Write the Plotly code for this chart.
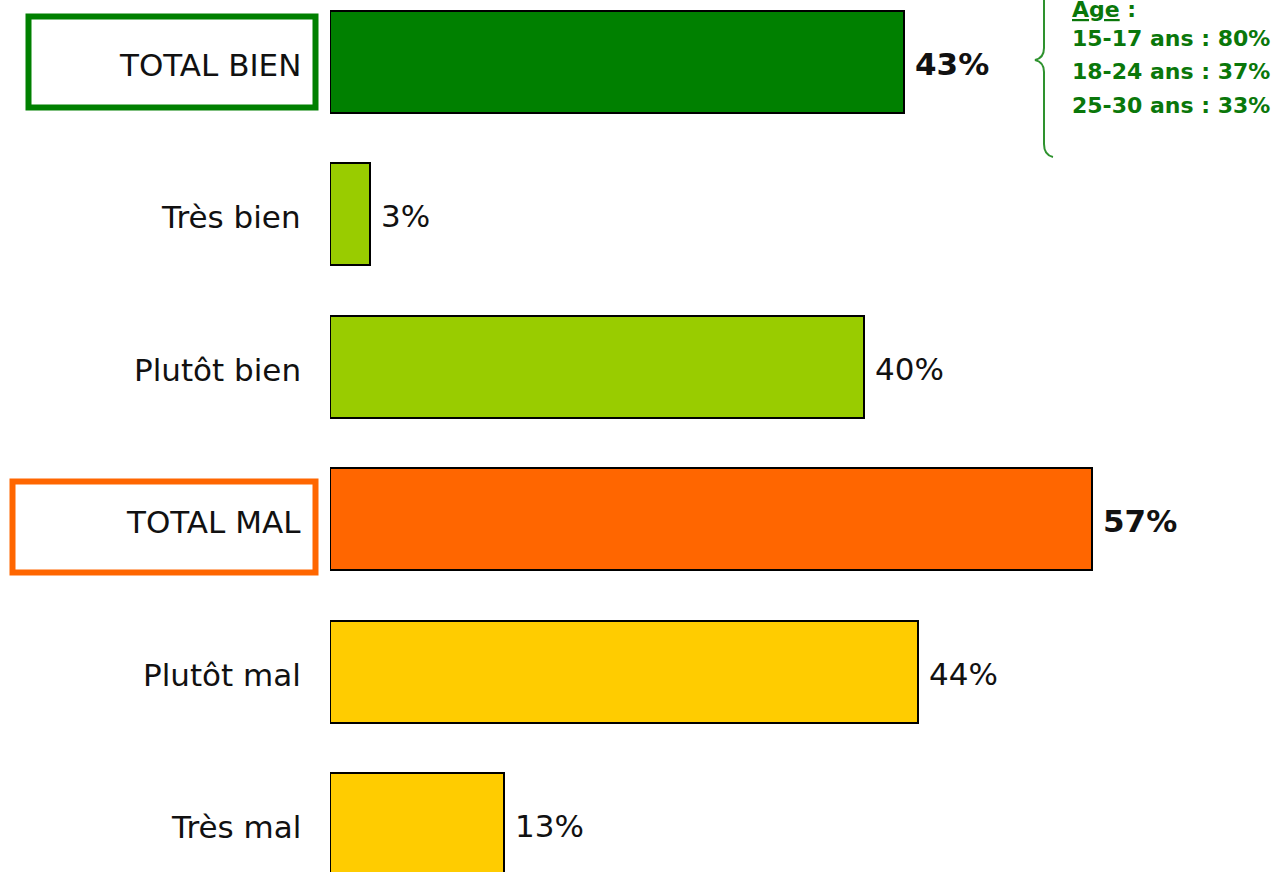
import plotly.graph_objects as go

categories = ["TOTAL BIEN", "Très bien", "Plutôt bien", "TOTAL MAL", "Plutôt mal", "Très mal"]
values = [43, 3, 40, 57, 44, 13]
is_total = [True, False, False, True, False, False]
bar_colors = ["#008000", "#99CC00", "#99CC00", "#FF6600", "#FFCC00", "#FFCC00"]

age_title = "Age"
age_groups = ["15-17 ans", "18-24 ans", "25-30 ans"]
age_values = [80, 37, 33]

W, H = 1273, 872
x0_px = 330
FONT = "DejaVu Sans"
GREEN_TXT = "#0A770A"

ypos = list(range(len(categories)))

fig = go.Figure()
fig.add_trace(go.Bar(
    x=values, y=ypos, orientation="h", width=0.67,
    marker=dict(color=bar_colors, line=dict(color="#000000", width=2)),
    hoverinfo="skip", showlegend=False,
))

annotations = []
for i, (c, v, t) in enumerate(zip(categories, values, is_total)):
    annotations.append(dict(
        x=303 / W, xref="paper", y=i, yref="y", text=c, showarrow=False,
        xanchor="right", yanchor="middle", yshift=-3,
        font=dict(family=FONT, size=31, color="#111111"),
    ))
    annotations.append(dict(
        x=v, xref="x", y=i, yref="y", text=(f"<b>{v}%</b>" if t else f"{v}%"),
        showarrow=False, xanchor="left", yanchor="middle", xshift=9, yshift=-2,
        font=dict(family=FONT, size=31, color="#111111"),
    ))

def py(px):
    return 1 - px / H

annotations.append(dict(
    x=1070 / W, xref="paper", y=py(9), yref="paper",
    text=f"<b><u>{age_title}</u> :</b>", showarrow=False,
    xanchor="left", yanchor="middle",
    font=dict(family=FONT, size=22, color=GREEN_TXT),
))
for k, (g, v) in enumerate(zip(age_groups, age_values)):
    annotations.append(dict(
        x=1070 / W, xref="paper", y=py(38 + 33.5 * k), yref="paper",
        text=f"<b>{g} : {v}%</b>", showarrow=False,
        xanchor="left", yanchor="middle",
        font=dict(family=FONT, size=22, color=GREEN_TXT),
    ))

shapes = []
shapes.append(dict(type="rect", xref="paper", yref="paper",
                   x0=28.5 / W, x1=315.5 / W, y0=py(16.5), y1=py(107.5),
                   line=dict(color="#008000", width=6), fillcolor="rgba(0,0,0,0)"))
shapes.append(dict(type="rect", xref="paper", yref="paper",
                   x0=12.5 / W, x1=315.5 / W, y0=py(481.5), y1=py(572.5),
                   line=dict(color="#FF6600", width=6), fillcolor="rgba(0,0,0,0)"))

def P(x, y):
    return f"{x / W:.5f},{py(y):.5f}"

brace = (f"M {P(1053, -37)} Q {P(1044, -34)} {P(1044, -22)} "
         f"L {P(1044, 48)} Q {P(1044, 58)} {P(1035, 60)} "
         f"Q {P(1044, 62)} {P(1044, 72)} "
         f"L {P(1044, 144)} Q {P(1044, 155)} {P(1053, 157)}")
shapes.append(dict(type="path", xref="paper", yref="paper", path=brace,
                   line=dict(color="#2E922E", width=2)))

plot_w = W - x0_px
fig.update_layout(
    width=W, height=H,
    margin=dict(l=0, r=0, t=0, b=0),
    paper_bgcolor="white", plot_bgcolor="white",
    xaxis=dict(domain=[x0_px / W, 1], range=[0, plot_w / 13.36], visible=False, fixedrange=True),
    yaxis=dict(range=[(H - 62) / 152.4, -62 / 152.4], visible=False, fixedrange=True),
    annotations=annotations, shapes=shapes,
    bargap=0,
)

fig.write_html(
    "out.html",
    config={"displayModeBar": False},
    post_script="document.body.style.margin='0';document.body.style.overflow='hidden';",
)
